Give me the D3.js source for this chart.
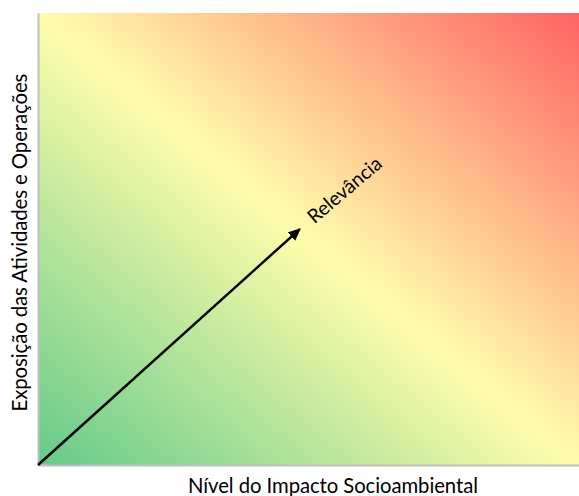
<!DOCTYPE html>
<html>
<head>
<meta charset="utf-8">
<script src="https://cdn.jsdelivr.net/npm/d3@7"></script>
<style>
  html, body { margin: 0; padding: 0; background: #fff; }
  svg { display: block; }
  text { font-family: Lato, "Open Sans", sans-serif; fill: #000; }
</style>
</head>
<body>
<svg id="chart" width="579" height="496"></svg>
<script>
// Data
const xAxisLabel = "Nível do Impacto Socioambiental";
const yAxisLabel = "Exposição das Atividades e Operações";
const arrowLabel = "Relevância";
const arrowStart = [0, 0];        // (impacto, exposição) on a 0..1 scale
const arrowEnd = [0.484, 0.522];
const labelPos = [0.511, 0.532];
const gradientOffsets = [0, 0.5, 1];

const svg = d3.select("#chart");
const plotL = 38, plotT = 13, plotR = 579, plotB = 465;

const x = d3.scaleLinear().domain([0, 1]).range([plotL, plotR]);
const y = d3.scaleLinear().domain([0, 1]).range([plotB, plotT]);
const gradColor = d3.scaleLinear().domain(gradientOffsets).range(["#63ca8a", "#fffdaa", "#ff6363"]);

const defs = svg.append("defs");
const grad = defs.append("linearGradient")
  .attr("id", "bg").attr("x1", 0).attr("y1", 1).attr("x2", 1).attr("y2", 0);
grad.selectAll("stop").data(gradientOffsets).join("stop")
  .attr("offset", d => d).attr("stop-color", d => gradColor(d));

defs.append("marker").attr("id", "arrowhead")
  .attr("viewBox", "0 0 10 10").attr("refX", 9).attr("refY", 5)
  .attr("markerWidth", 5).attr("markerHeight", 4.5).attr("orient", "auto")
  .attr("markerUnits", "strokeWidth")
  .attr("preserveAspectRatio", "none")
  .append("path").attr("d", "M0,0 L10,5 L0,10 Z").attr("fill", "#000");

svg.append("rect")
  .attr("x", x(0)).attr("y", y(1))
  .attr("width", x(1) - x(0)).attr("height", y(0) - y(1))
  .attr("fill", "url(#bg)");

// axes lines
svg.append("g").attr("transform", `translate(0,${y(0)})`)
  .call(d3.axisBottom(x).ticks(0).tickSize(0).tickSizeOuter(0))
  .call(g => g.select(".domain").attr("stroke", "#bfbfbf").attr("stroke-width", 2));
svg.append("g").attr("transform", `translate(${x(0)},0)`)
  .call(d3.axisLeft(y).ticks(0).tickSize(0).tickSizeOuter(0))
  .call(g => g.select(".domain").attr("stroke", "#bfbfbf").attr("stroke-width", 2));

// arrow
svg.append("line")
  .attr("x1", x(arrowStart[0])).attr("y1", y(arrowStart[1]))
  .attr("x2", x(arrowEnd[0])).attr("y2", y(arrowEnd[1]))
  .attr("stroke", "#000").attr("stroke-width", 2.5)
  .attr("marker-end", "url(#arrowhead)");

svg.append("text")
  .attr("transform", `translate(${x(labelPos[0])},${y(labelPos[1])}) rotate(-40.5)`)
  .attr("font-size", 19.5)
  .text(arrowLabel);

svg.append("text")
  .attr("x", 333).attr("y", 493)
  .attr("text-anchor", "middle").attr("font-size", 20.3)
  .attr("textLength", 290).attr("lengthAdjust", "spacing")
  .text(xAxisLabel);

svg.append("text")
  .attr("transform", `translate(27,242.5) rotate(-90)`)
  .attr("text-anchor", "middle").attr("font-size", 20.5)
  .attr("textLength", 338).attr("lengthAdjust", "spacing")
  .text(yAxisLabel);
</script>
</body>
</html>
